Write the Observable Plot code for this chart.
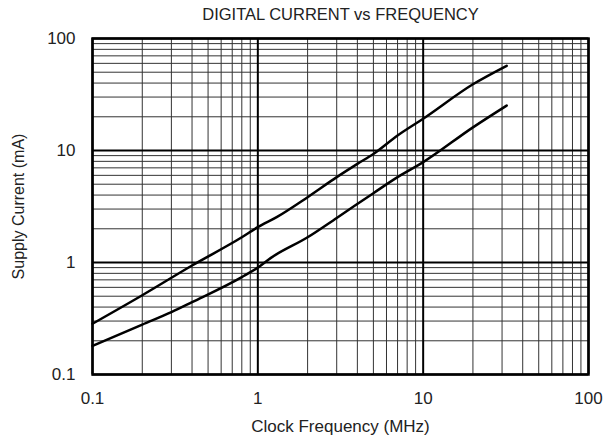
<!DOCTYPE html>
<html><head><meta charset="utf-8">
<script src="https://cdn.jsdelivr.net/npm/d3@7"></script>
<script src="https://cdn.jsdelivr.net/npm/@observablehq/plot@0.6"></script>
<style>
body{margin:0;background:#fff;}
</style>
</head><body>
<div id="chart"></div>
<script>
// Data
const freqUpper = [0.1, 0.2, 0.4, 0.8, 1, 1.3, 2, 3, 4, 5, 7, 10, 20, 32];
const currUpper = [0.284, 0.51, 0.94, 1.68, 2.07, 2.54, 3.83, 5.78, 7.6, 9.3, 13.6, 19.2, 39, 57];
const freqLower = [0.1, 0.2, 0.3, 0.4, 0.8, 1, 1.2, 2, 3, 5, 7, 10, 20, 32];
const currLower = [0.18, 0.279, 0.36, 0.442, 0.74, 0.9, 1.1, 1.68, 2.5, 4.16, 5.78, 7.87, 16.1, 25.2];

const majorTicks = [0.1, 1, 10, 100];
const tickLabels = ["0.1", "1", "10", "100"];
const minorGrid = [0.2, 0.3, 0.4, 0.5, 0.6, 0.7, 0.8, 0.9,
                   2, 3, 4, 5, 6, 7, 8, 9,
                   20, 30, 40, 50, 60, 70, 80, 90];

const titleText = "DIGITAL CURRENT vs FREQUENCY";
const xLabel = "Clock Frequency (MHz)";
const yLabel = "Supply Current (mA)";

const upper = freqUpper.map((f, i) => ({f, c: currUpper[i]}));
const lower = freqLower.map((f, i) => ({f, c: currLower[i]}));
const fmt = v => tickLabels[majorTicks.indexOf(v)] ?? String(v);
const font = "'Liberation Sans', Arial, sans-serif";

const chart = Plot.plot({
  width: 605,
  height: 444,
  marginLeft: 92,
  marginRight: 17,
  marginTop: 38,
  marginBottom: 70,
  style: {fontFamily: font, fontSize: "17px", color: "#222", background: "#fff"},
  x: {type: "log", domain: [0.1, 100]},
  y: {type: "log", domain: [0.1, 100]},
  marks: [
    Plot.ruleX(minorGrid, {stroke: "#333", strokeWidth: 1}),
    Plot.ruleY(minorGrid, {stroke: "#333", strokeWidth: 1}),
    Plot.ruleX(majorTicks, {stroke: "#000", strokeWidth: 2}),
    Plot.ruleY(majorTicks, {stroke: "#000", strokeWidth: 2}),
    Plot.frame({stroke: "#000", strokeWidth: 2.5}),
    Plot.line(upper, {x: "f", y: "c", stroke: "#000", strokeWidth: 2.5, curve: "monotone-x"}),
    Plot.line(lower, {x: "f", y: "c", stroke: "#000", strokeWidth: 2.5, curve: "monotone-x"}),
    Plot.axisX({ticks: majorTicks, tickSize: 0, tickPadding: 17, tickFormat: fmt, label: null, fontSize: 17}),
    Plot.axisY({ticks: majorTicks, tickSize: 0, tickPadding: 17, tickFormat: fmt, label: null, fontSize: 17}),
    Plot.text([titleText], {frameAnchor: "top", dy: -24, fontSize: 16.5, fill: "#222", textAnchor: "middle", lineAnchor: "middle"}),
    Plot.text([xLabel], {frameAnchor: "bottom", dy: 52, fontSize: 17, fill: "#222", textAnchor: "middle", lineAnchor: "middle"}),
    Plot.text([yLabel], {frameAnchor: "left", dx: -74, rotate: -90, fontSize: 16, fill: "#222", textAnchor: "middle", lineAnchor: "middle"})
  ]
});
document.getElementById("chart").appendChild(chart);
</script>
</body></html>
